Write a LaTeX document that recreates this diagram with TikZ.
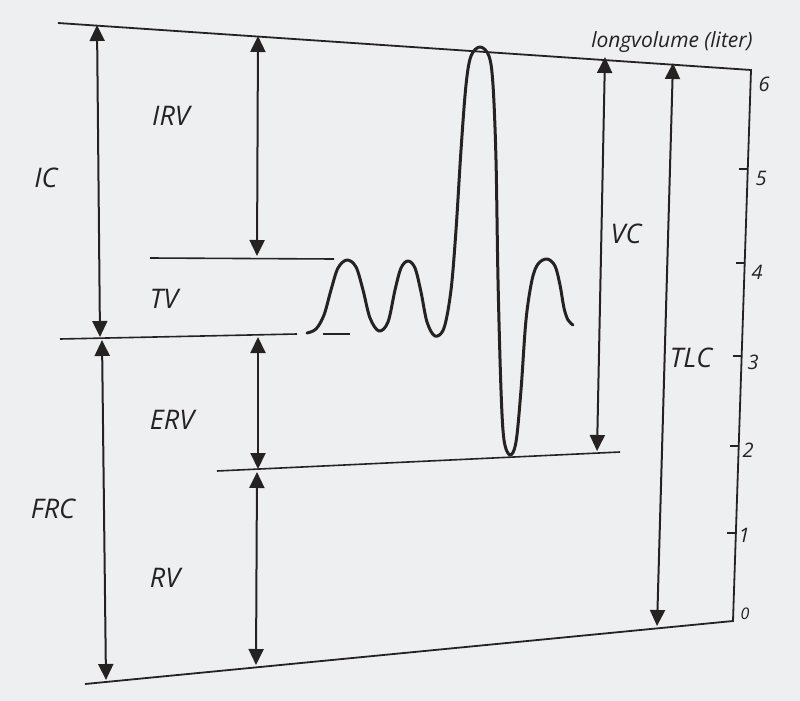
\documentclass[tikz,border=0pt]{standalone}
\usepackage{fontspec}
\setmainfont{Open Sans}
\usetikzlibrary{arrows.meta}
\definecolor{paper}{RGB}{238,239,240}
\definecolor{ink}{RGB}{38,34,34}
\tikzset{
  dimarrow/.style={draw=ink, line width=2pt, {Triangle[width=15pt,length=16pt]}-{Triangle[width=15pt,length=16pt]}, shorten <=1pt, shorten >=1pt},
  levelline/.style={draw=ink, line width=1.6pt},
  frameline/.style={draw=ink, line width=1.8pt},
  lbl/.style={text=ink, font=\fontsize{27}{30}\selectfont\itshape, inner sep=0pt},
  numlbl/.style={text=ink, font=\fontsize{20}{22}\selectfont\itshape, inner sep=0pt},
  axlbl/.style={text=ink, font=\fontsize{21}{23}\selectfont\itshape, inner sep=0pt},
  tickline/.style={draw=ink, line width=1.6pt},
  curve/.style={draw=ink, line width=3pt, line cap=round, line join=round}
}
\begin{document}
\begin{tikzpicture}[x=1pt,y=-1pt]
\useasboundingbox (0,0) rectangle (800,701);
\fill[paper] (0,0) rectangle (800,701);
% frame
\coordinate (TL) at (58,23);
\coordinate (TR) at (751,70);
\coordinate (BR) at (733,621);
\coordinate (BL) at (85,684);
\draw[frameline] (TL) -- (TR) -- (BR) -- (BL);
% ticks
\foreach \y/\n/\lx/\ly in {169/5/761/178, 263/4/757/272, 356/3/753/362, 446/2/748/450, 533/1/744/535}{
  \pgfmathsetmacro{\ax}{751-18*(\y-70)/551}
  \coordinate (tk\n) at (\ax,\y);
  \draw[tickline] (tk\n) -- ++(-9,0);
  \node[numlbl] (n\n) at (\lx,\ly) {\n};
}
\node[numlbl] (n6) at (764,84) {6};
\node[numlbl, font=\fontsize{16}{18}\selectfont\itshape] (n0) at (745,614) {0};
\node[axlbl] (axt) at (672,42) {longvolume (liter)};
% level lines
\coordinate (tvA) at (150,258);
\coordinate (tvB) at (334,259);
\draw[levelline] (tvA) -- (tvB);
\coordinate (frA) at (60,339);
\coordinate (frB) at (297,334);
\draw[levelline] (frA) -- (frB);
\coordinate (frC) at (323,334);
\coordinate (frD) at (350,334);
\draw[levelline] (frC) -- (frD);
\coordinate (rvA) at (217,471);
\coordinate (rvB) at (620,452);
\draw[levelline] (rvA) -- (rvB);
% breathing curve
\draw[curve] plot[smooth, tension=0.55] coordinates {
 (307,333) (316,329) (324,315) (331,290) (338,268) (347,260) (356,267) (363,290) (370,318) (379,331) (388,322) (395,290) (401,268) (408,261) (415,268) (421,292) (427,322) (435,336) (444,328) (451,290) (456,230) (461,150) (466,85) (471,56) (480,47) (489,56) (493,85) (496,160) (498,280) (501,390) (504,440) (510,455) (516,442) (521,390) (526,320) (532,280) (538,264) (547,259) (555,266) (560,285) (564,308) (568,320) (573,325)};
% dimension arrows
\coordinate (icT) at (97,24);
\coordinate (icB) at (100,338);
\draw[dimarrow] (icT) -- (icB);
\coordinate (frcT) at (102,339);
\coordinate (frcB) at (106,681);
\draw[dimarrow] (frcT) -- (frcB);
\coordinate (irvT) at (258,35);
\coordinate (irvB) at (257,257);
\draw[dimarrow] (irvT) -- (irvB);
\coordinate (ervT) at (258,336);
\coordinate (ervB) at (258,470);
\draw[dimarrow] (ervT) -- (ervB);
\coordinate (rvT) at (257,471);
\coordinate (rvB) at (256,666);
\draw[dimarrow] (rvT) -- (rvB);
\coordinate (vcT) at (605,56);
\coordinate (vcB) at (597,452);
\draw[dimarrow] (vcT) -- (vcB);
\coordinate (tlcT) at (673,62);
\coordinate (tlcB) at (657,627);
\draw[dimarrow] (tlcT) -- (tlcB);
% labels
\node[lbl] (IC) at (46,178) {IC};
\node[lbl] (IRV) at (171,116) {IRV};
\node[lbl] (TV) at (164,299) {TV};
\node[lbl] (ERV) at (172,420) {ERV};
\node[lbl] (FRC) at (53,509) {FRC};
\node[lbl] (RV) at (165,578) {RV};
\node[lbl] (VC) at (626,234) {VC};
\node[lbl] (TLC) at (691,358) {TLC};
\end{tikzpicture}
\end{document}
